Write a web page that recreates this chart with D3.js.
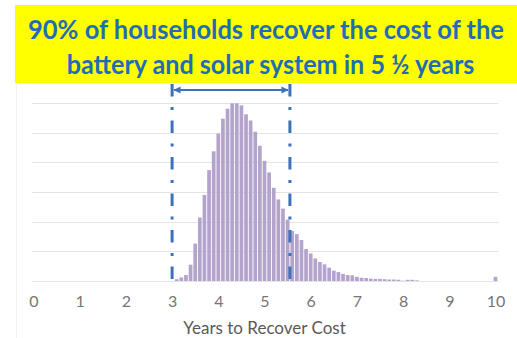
<!DOCTYPE html>
<html>
<head>
<meta charset="utf-8">
<script src="https://cdn.jsdelivr.net/npm/d3@7"></script>
<style>
  html, body { margin: 0; padding: 0; background: #fff; }
  svg { display: block; }
</style>
</head>
<body>
<svg id="chart" width="517" height="338"></svg>
<script>
// ---- Data ----
const titleLines = ["90% of households recover the cost of the", "battery and solar system in 5 \u00BD years"];
const axisTitle = "Years to Recover Cost";
const xTicks = [0, 1, 2, 3, 4, 5, 6, 7, 8, 9, 10];
const yGrid = [0, 1, 2, 3, 4, 5, 6];
// bin (upper edge, years) and relative frequency
const binYears = [3.1, 3.2, 3.3, 3.4, 3.5, 3.6, 3.7, 3.8, 3.9, 4.0,
                  4.1, 4.2, 4.3, 4.4, 4.5, 4.6, 4.7, 4.8, 4.9, 5.0,
                  5.1, 5.2, 5.3, 5.4, 5.5, 5.6, 5.7, 5.8, 5.9, 6.0,
                  6.1, 6.2, 6.3, 6.4, 6.5, 6.6, 6.7, 6.8, 6.9, 7.0,
                  7.1, 7.2, 7.3, 7.4, 7.5, 7.6, 7.7, 7.8, 7.9, 8.0,
                  8.1, 8.2, 8.3, 10.0];
const binFreq = [0.06, 0.12, 0.20, 0.55, 1.26, 2.14, 2.90, 3.74, 4.37, 4.97,
                 5.47, 5.81, 5.99, 5.99, 5.92, 5.62, 5.41, 5.03, 4.56, 4.05,
                 3.66, 3.14, 2.75, 2.44, 2.07, 1.69, 1.58, 1.38, 1.08, 0.93,
                 0.76, 0.64, 0.56, 0.45, 0.35, 0.30, 0.24, 0.20, 0.19, 0.14,
                 0.11, 0.10, 0.08, 0.07, 0.07, 0.06, 0.05, 0.05, 0.04, 0.01,
                 0.04, 0.04, 0.02, 0.14];
const rangeMarks = [3.0, 5.55];

// ---- Scales ----
const svg = d3.select("#chart");
const x = d3.scaleLinear().domain([0, 10]).range([33.5, 495.5]);
const y = d3.scaleLinear().domain([0, 6]).range([281, 103]);

// faint slide border line
svg.append("line").attr("x1", 16.5).attr("x2", 16.5).attr("y1", 83).attr("y2", 338)
  .attr("stroke", "#f1f1f1").attr("stroke-width", 1);

// ---- Title banner ----
svg.append("rect").attr("x", 15).attr("y", 5).attr("width", 502).attr("height", 78)
  .attr("fill", "#ffff00");
const tl = [{t: titleLines[0], y: 39, w: 476, cx: 266}, {t: titleLines[1], y: 74, w: 408, cx: 270.5}];
const capTarget = 19;
svg.selectAll("text.title").data(tl).join("text")
  .attr("class", "title")
  .attr("text-anchor", "middle")
  .attr("font-family", "Lato, 'Open Sans', sans-serif")
  .attr("font-weight", "bold")
  .attr("font-size", 27)
  .attr("fill", "#1f6db4")
  .text(d => d.t)
  .each(function(d) {
    const el = d3.select(this);
    const w0 = this.getComputedTextLength();
    const fs = 27 * d.w / w0;
    el.attr("font-size", fs);
    const k = Math.min(1.3, Math.max(1, capTarget / (0.72 * fs)));
    el.attr("transform", `translate(${d.cx},${d.y}) scale(1,${k})`);
  });

// ---- Gridlines ----
svg.append("g").selectAll("line").data(yGrid).join("line")
  .attr("x1", x(-0.04)).attr("x2", x(10.06))
  .attr("y1", d => Math.round(y(d)) + 0.5).attr("y2", d => Math.round(y(d)) + 0.5)
  .attr("stroke", "#e4e4e4").attr("stroke-width", 1);

// ---- Bars ----
const bw = x(0.08) - x(0);
const data = binYears.map((v, i) => ({x: v, f: binFreq[i]}));
svg.append("g").selectAll("rect").data(data).join("rect")
  .attr("x", d => x(d.x) - bw / 2)
  .attr("width", bw)
  .attr("y", d => y(d.f))
  .attr("height", d => y(0) - y(d.f))
  .attr("fill", "#b3a3cd");

// ---- X axis ----
const xAxis = d3.axisBottom(x).tickValues(xTicks).tickSize(0).tickPadding(0).tickFormat(d3.format("d"));
const gx = svg.append("g").attr("transform", "translate(0,296)").call(xAxis);
gx.select(".domain").remove();
gx.selectAll("text")
  .attr("font-family", "Lato, 'Open Sans', sans-serif")
  .attr("font-size", 16)
  .attr("fill", "#767676");

svg.append("text").attr("x", 264.5).attr("y", 334)
  .attr("text-anchor", "middle")
  .attr("font-family", "Lato, 'Open Sans', sans-serif")
  .attr("font-size", 17)
  .attr("fill", "#595959")
  .text(axisTitle);

// ---- Range markers (dash-dot lines) ----
svg.append("g").selectAll("line").data(rangeMarks).join("line")
  .attr("x1", d => x(d)).attr("x2", d => x(d))
  .attr("y1", 84).attr("y2", 281)
  .attr("stroke", "#3c72ba").attr("stroke-width", 3)
  .attr("stroke-dasharray", "12.5,10.5,3,10.5");

// ---- Double arrow ----
const defs = svg.append("defs");
defs.append("marker").attr("id", "ah").attr("viewBox", "0 0 10 10")
  .attr("refX", 9).attr("refY", 5).attr("markerWidth", 4).attr("markerHeight", 4)
  .attr("orient", "auto-start-reverse")
  .append("path").attr("d", "M0,0 L10,5 L0,10 Z").attr("fill", "#3c72ba");
svg.append("line")
  .attr("x1", x(rangeMarks[0]) + 2).attr("x2", x(rangeMarks[1]) - 2)
  .attr("y1", 90).attr("y2", 90)
  .attr("stroke", "#3c72ba").attr("stroke-width", 1.8)
  .attr("marker-start", "url(#ah)").attr("marker-end", "url(#ah)");
</script>
</body>
</html>
